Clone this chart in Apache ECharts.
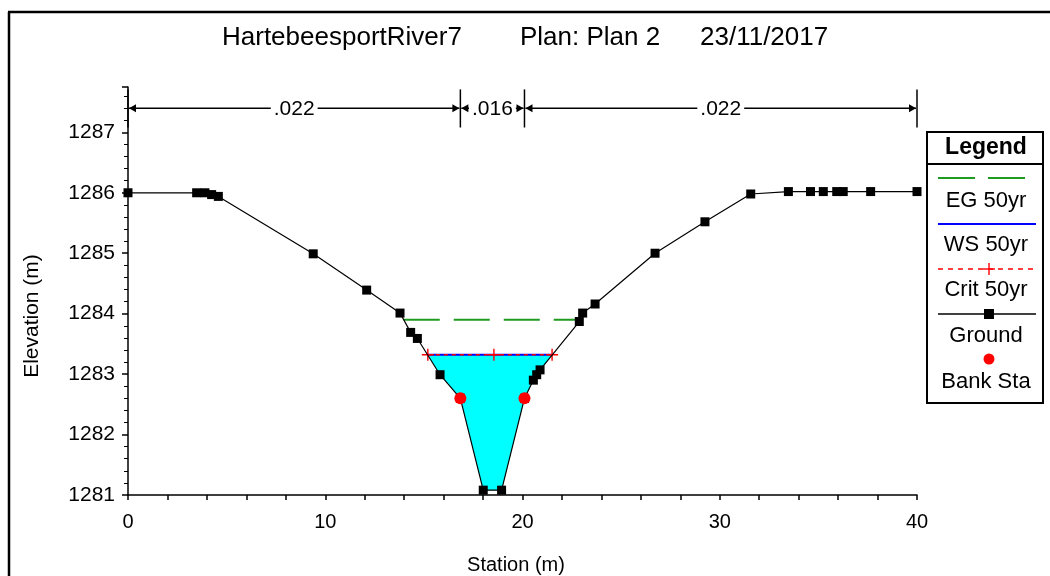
<!DOCTYPE html>
<html>
<head>
<meta charset="utf-8">
<script src="https://cdn.jsdelivr.net/npm/echarts@6/dist/echarts.min.js"></script>
<style>html,body{margin:0;padding:0;background:#fff;}#c{width:1050px;height:576px;}</style>
</head>
<body>
<div id="c"></div>
<script>
// ---- data ----
var groundStation = [0, 3.48, 3.9, 4.24, 4.58, 9.39, 12.1, 13.79, 14.33, 14.67, 15.82, 16.85, 18.01, 18.94, 20.1, 20.55, 20.72, 20.89, 22.88, 23.05, 23.68, 26.72, 29.25, 31.57, 33.48, 34.6, 35.25, 35.93, 36.26, 37.65, 40];
var groundElev = [1286.0, 1286.0, 1286.0, 1285.97, 1285.94, 1284.99, 1284.39, 1284.01, 1283.69, 1283.59, 1282.99, 1282.6, 1281.08, 1281.08, 1282.6, 1282.9, 1282.99, 1283.07, 1283.87, 1284.01, 1284.16, 1285.0, 1285.52, 1285.98, 1286.02, 1286.02, 1286.02, 1286.02, 1286.02, 1286.02, 1286.02];
var egStation = [13.98, 22.9];
var egElev = 1283.9;
var wsStation = [15.2, 21.5];
var wsElev = 1283.32;
var critStation = [15.2, 18.55, 21.5];
var critElev = 1283.32;
var bankStation = [16.85, 20.1];
var bankElev = [1282.6, 1282.6];
var nBounds = [0, 16.85, 20.1, 40];
var nValues = ['.022', '.016', '.022'];
var xTicks = [0, 10, 20, 30, 40];
var yTicks = [1281, 1282, 1283, 1284, 1285, 1286, 1287];
var titleParts = ['HartebeesportRiver7', 'Plan: Plan 2', '23/11/2017'];
var axisNames = ['Station (m)', 'Elevation (m)'];
var legendNames = ['EG 50yr', 'WS 50yr', 'Crit 50yr', 'Ground', 'Bank Sta'];

// ---- build ----
var FONT = 'Liberation Sans, Arial, sans-serif';
var ground = groundStation.map(function (s, i) { return [s, groundElev[i]]; });
var fill = [[wsStation[0], wsElev]];
groundStation.forEach(function (s, i) {
  if (s > wsStation[0] && s < wsStation[1]) fill.push([s, groundElev[i]]);
});
fill.push([wsStation[1], wsElev]);
var nData = nValues.map(function (v, i) { return [nBounds[i], nBounds[i + 1], v]; });
var plusPath = 'path://M-0.7,-6H0.7V6H-0.7Z M-6,-0.7H6V0.7H-6Z';

var chart = echarts.init(document.getElementById('c'), null, { renderer: 'canvas' });
var NY0 = 1287.08, NY1 = 1287.71, NYA = 1287.4;

var option = {
  animation: false,
  backgroundColor: '#fff',
  textStyle: { fontFamily: FONT },
  grid: { left: 128, right: 133, top: 87, bottom: 81, containLabel: false, outerBoundsMode: 'none' },
  xAxis: {
    type: 'value', min: 0, max: 40, interval: 2,
    axisLine: { lineStyle: { color: '#000', width: 1.5 } },
    axisTick: { show: true, length: 5, lineStyle: { color: '#000', width: 1.5 } },
    axisLabel: {
      margin: 17, fontSize: 20, color: '#000', fontFamily: FONT,
      formatter: function (v) { return xTicks.indexOf(v) >= 0 ? String(v) : ''; }
    },
    splitLine: { show: false }
  },
  yAxis: {
    type: 'value', min: 1281, max: 1287.75, interval: 1,
    axisLine: { show: true, lineStyle: { color: '#000', width: 1.5 } },
    axisTick: { show: true, length: 6, lineStyle: { color: '#000', width: 1.5 } },
    minorTick: { show: true, splitNumber: 5, length: 4, lineStyle: { color: '#000', width: 1 } },
    axisLabel: {
      margin: 13, fontSize: 21, color: '#000', fontFamily: FONT,
      formatter: function (v) { return yTicks.indexOf(v) >= 0 ? String(v) : ''; }
    },
    splitLine: { show: false }
  },
  series: [
    {
      name: 'Water', type: 'custom', z: 1, silent: true,
      data: [0],
      renderItem: function (params, api) {
        var pts = fill.map(function (p) { return api.coord(p); });
        return { type: 'polygon', shape: { points: pts }, style: { fill: '#00ffff', stroke: null } };
      }
    },
    {
      name: 'EG 50yr', type: 'line', z: 3, symbol: 'none',
      data: egStation.map(function (s) { return [s, egElev]; }),
      lineStyle: { color: '#1f9b1f', width: 2, type: [36, 14] }
    },
    {
      name: 'WS 50yr', type: 'line', z: 4, symbol: 'none',
      data: wsStation.map(function (s) { return [s, wsElev]; }),
      lineStyle: { color: '#0000ff', width: 2 }
    },
    {
      name: 'Crit 50yr', type: 'line', z: 5, symbol: plusPath, symbolSize: 12,
      data: critStation.map(function (s) { return [s, critElev]; }),
      itemStyle: { color: '#ff0000' },
      lineStyle: { color: '#ff0000', width: 1.5, type: [4, 4] }
    },
    {
      name: 'Ground', type: 'line', z: 6, symbol: 'rect', symbolSize: 9,
      data: ground,
      itemStyle: { color: '#000' },
      lineStyle: { color: '#000', width: 1.2 }
    },
    {
      name: 'Bank Sta', type: 'scatter', z: 20, zlevel: 1, symbol: 'circle', symbolSize: 12,
      data: bankStation.map(function (s, i) { return [s, bankElev[i]]; }),
      itemStyle: { color: '#ff0000', opacity: 1 }
    },
    {
      name: 'Manning', type: 'custom', z: 8, silent: true, clip: false,
      data: nData,
      renderItem: function (params, api) {
        var l = api.value(0), r = api.value(1), txt = nData[params.dataIndex][2];
        var a = api.coord([l, NYA]), b = api.coord([r, NYA]);
        var lt = api.coord([l, NY1]), lb = api.coord([l, NY0]);
        var rt = api.coord([r, NY1]), rb = api.coord([r, NY0]);
        var y = a[1], x1 = a[0] + 1, x2 = b[0] - 1, mid = (a[0] + b[0]) / 2;
        var st = { stroke: '#000', lineWidth: 1.5 };
        var children = [
          { type: 'line', shape: { x1: lt[0], y1: lt[1], x2: lb[0], y2: lb[1] }, style: st },
          { type: 'line', shape: { x1: x1, y1: y, x2: x2, y2: y }, style: st },
          { type: 'polygon', shape: { points: [[x1, y], [x1 + 7, y - 4], [x1 + 7, y + 4]] }, style: { fill: '#000' } },
          { type: 'polygon', shape: { points: [[x2, y], [x2 - 7, y - 4], [x2 - 7, y + 4]] }, style: { fill: '#000' } },
          { type: 'text', x: mid, y: y + 1, style: { text: txt, fill: '#000', font: '21px ' + FONT, align: 'center', verticalAlign: 'middle', backgroundColor: '#fff', padding: [0, 3] } }
        ];
        if (params.dataIndex === nData.length - 1) {
          children.push({ type: 'line', shape: { x1: rt[0], y1: rt[1], x2: rb[0], y2: rb[1] }, style: st });
        }
        return { type: 'group', children: children };
      }
    }
  ],
  graphic: [
    { type: 'line', shape: { x1: 8, y1: 12, x2: 1050, y2: 12 }, style: { stroke: '#000', lineWidth: 2.5 } },
    { type: 'line', shape: { x1: 9, y1: 12, x2: 9, y2: 576 }, style: { stroke: '#000', lineWidth: 2.5 } },
    { type: 'text', left: 222, top: 25, style: { text: titleParts[0], font: '26px ' + FONT, fill: '#000' } },
    { type: 'text', left: 520, top: 25, style: { text: titleParts[1], font: '26px ' + FONT, fill: '#000' } },
    { type: 'text', left: 700, top: 25, style: { text: titleParts[2], font: '26px ' + FONT, fill: '#000' } },
    // axis names
    { type: 'text', x: 516, y: 565, style: { text: axisNames[0], font: '20px ' + FONT, fill: '#000', align: 'center', verticalAlign: 'middle' } },
    { type: 'text', x: 32, y: 316, rotation: Math.PI / 2, style: { text: axisNames[1], font: '21px ' + FONT, fill: '#000', align: 'center', verticalAlign: 'middle' } },
    // legend box
    { type: 'rect', shape: { x: 927, y: 132, width: 116, height: 271 }, style: { fill: '#fff', stroke: '#000', lineWidth: 2 } },
    { type: 'line', shape: { x1: 927, y1: 164, x2: 1043, y2: 164 }, style: { stroke: '#000', lineWidth: 2 } },
    { type: 'text', x: 986, y: 148, style: { text: 'Legend', font: 'bold 23px ' + FONT, fill: '#000', align: 'center', verticalAlign: 'middle' } },
    { type: 'line', shape: { x1: 938, y1: 178, x2: 1030, y2: 178 }, style: { stroke: '#1f9b1f', lineWidth: 2, lineDash: [37, 13] } },
    { type: 'text', x: 986, y: 201, style: { text: legendNames[0], font: '22px ' + FONT, fill: '#000', align: 'center', verticalAlign: 'middle' } },
    { type: 'line', shape: { x1: 938, y1: 224, x2: 1036, y2: 224 }, style: { stroke: '#0000ff', lineWidth: 2 } },
    { type: 'text', x: 986, y: 245, style: { text: legendNames[1], font: '22px ' + FONT, fill: '#000', align: 'center', verticalAlign: 'middle' } },
    { type: 'line', shape: { x1: 938, y1: 269, x2: 1036, y2: 269 }, style: { stroke: '#ff0000', lineWidth: 1.5, lineDash: [5, 5] } },
    { type: 'rect', shape: { x: 988.3, y: 263, width: 1.4, height: 12 }, style: { fill: '#ff0000' } },
    { type: 'rect', shape: { x: 983, y: 268.3, width: 12, height: 1.4 }, style: { fill: '#ff0000' } },
    { type: 'text', x: 986, y: 290, style: { text: legendNames[2], font: '22px ' + FONT, fill: '#000', align: 'center', verticalAlign: 'middle' } },
    { type: 'line', shape: { x1: 938, y1: 314, x2: 1036, y2: 314 }, style: { stroke: '#000', lineWidth: 1.5 } },
    { type: 'rect', shape: { x: 984, y: 309, width: 10, height: 10 }, style: { fill: '#000' } },
    { type: 'text', x: 986, y: 336, style: { text: legendNames[3], font: '22px ' + FONT, fill: '#000', align: 'center', verticalAlign: 'middle' } },
    { type: 'circle', shape: { cx: 989, cy: 359, r: 5.5 }, style: { fill: '#ff0000' } },
    { type: 'text', x: 986, y: 382, style: { text: legendNames[4], font: '22px ' + FONT, fill: '#000', align: 'center', verticalAlign: 'middle' } }
  ]
};
chart.setOption(option);
</script>
</body>
</html>
